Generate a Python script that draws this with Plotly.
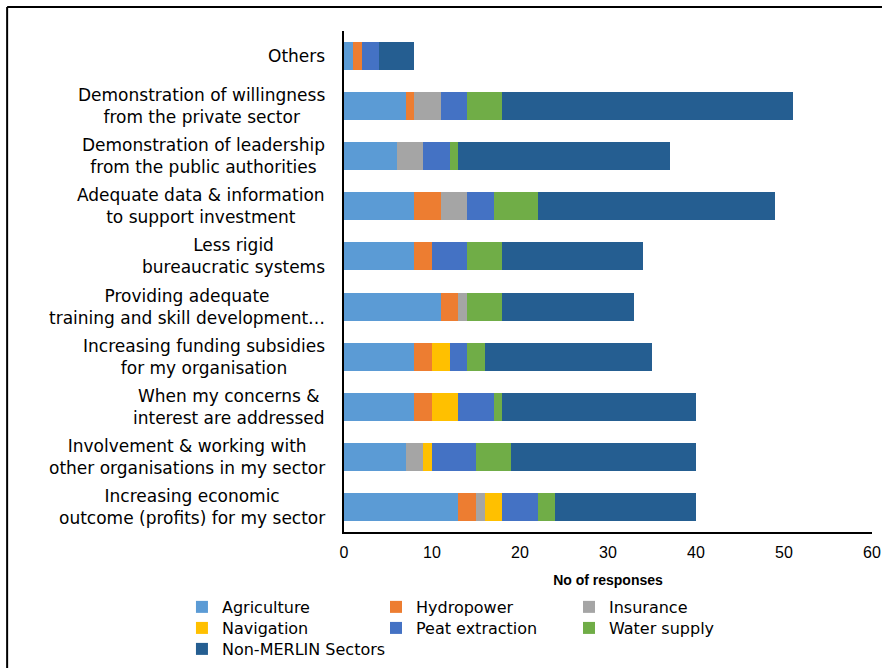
import plotly.graph_objects as go

categories = [
    "Others",
    "Demonstration of willingness<br>from the private sector",
    "Demonstration of leadership<br>from the public authorities",
    "Adequate data & information<br>to support investment",
    "Less rigid<br>bureaucratic systems",
    "Providing adequate<br>training and skill development…",
    "Increasing funding subsidies<br>for my organisation",
    "When my concerns &<br>interest are addressed",
    "Involvement & working with<br>other organisations in my sector",
    "Increasing economic<br>outcome (profits) for my sector",
]

agriculture = [1, 7, 6, 8, 8, 11, 8, 8, 7, 13]
hydropower = [1, 1, 0, 3, 2, 2, 2, 2, 0, 2]
insurance = [0, 3, 3, 3, 0, 1, 0, 0, 2, 1]
navigation = [0, 0, 0, 0, 0, 0, 2, 3, 1, 2]
peat_extraction = [2, 3, 3, 3, 4, 0, 2, 4, 5, 4]
water_supply = [0, 4, 1, 5, 4, 4, 2, 1, 4, 2]
non_merlin = [4, 33, 24, 27, 16, 15, 19, 22, 21, 16]

series_names = ["Agriculture", "Hydropower", "Insurance", "Navigation",
                "Peat extraction", "Water supply", "Non-MERLIN Sectors"]
series_values = [agriculture, hydropower, insurance, navigation,
                 peat_extraction, water_supply, non_merlin]
series_colors = ["#5B9BD5", "#ED7D31", "#A5A5A5", "#FFC000",
                 "#4472C4", "#70AD47", "#255E91"]

x_ticks = [0, 10, 20, 30, 40, 50, 60]

# legend grid: 3 columns, rows filled left to right (container coordinates)
legend_cols_x = [0.2063, 0.4263, 0.6451]
legend_rows_y = [0.1168, 0.0853, 0.0539]

arial = "Liberation Sans, Arial, sans-serif"
dejavu = "DejaVu Sans, sans-serif"

fig = go.Figure()
legend_layouts = {}
for i, (name, vals, color) in enumerate(zip(series_names, series_values, series_colors)):
    leg_id = "legend" if i == 0 else f"legend{i + 1}"
    fig.add_trace(go.Bar(
        y=categories, x=vals, name=name, orientation="h", legend=leg_id,
        showlegend=True,
        marker=dict(color=color, line=dict(width=0)),
    ))
    legend_layouts[leg_id] = dict(
        xref="container", yref="container",
        x=legend_cols_x[i % 3], y=legend_rows_y[i // 3],
        xanchor="left", yanchor="top", orientation="h", itemwidth=30,
        font=dict(family=dejavu, size=16, color="#000000"),
        bgcolor="rgba(0,0,0,0)", visible=True,
    )

annotations = [
    dict(text=c, x=-0.032, xref="paper", xanchor="right", y=c, yref="y",
         yanchor="middle", align="center", showarrow=False,
         font=dict(family=dejavu, size=17, color="#000000"))
    for c in categories
]

fig.update_layout(
    showlegend=True,
    barmode="stack",
    bargap=0.44,
    width=882, height=668,
    margin=dict(l=344, r=10, t=31, b=136),
    paper_bgcolor="white",
    plot_bgcolor="white",
    font=dict(family=arial, size=16, color="#000000"),
    xaxis=dict(
        range=[0, 60], tickvals=x_ticks, showgrid=False, zeroline=False,
        showline=True, linecolor="#000000", linewidth=1.5, automargin=False,
        ticks="outside", ticklen=5, tickcolor="rgba(0,0,0,0)",
        tickfont=dict(family=arial, size=16, color="#000000"),
        title=dict(text="<b>No of responses</b>",
                   font=dict(family=arial, size=14, color="#000000"), standoff=15),
    ),
    yaxis=dict(
        autorange="reversed", showgrid=False, zeroline=False,
        showline=True, linecolor="#000000", linewidth=2, automargin=False,
        showticklabels=False, ticks="",
    ),
    annotations=annotations,
    shapes=[
        dict(type="line", xref="paper", yref="paper", x0=-0.638, x1=1.05, y0=1.048, y1=1.048,
             line=dict(color="#000000", width=2)),
        dict(type="line", xref="paper", yref="paper", x0=-0.638, x1=-0.638, y0=1.048, y1=-0.3,
             line=dict(color="#000000", width=2)),
    ],
    **legend_layouts,
)

fig.write_html("out.html")
